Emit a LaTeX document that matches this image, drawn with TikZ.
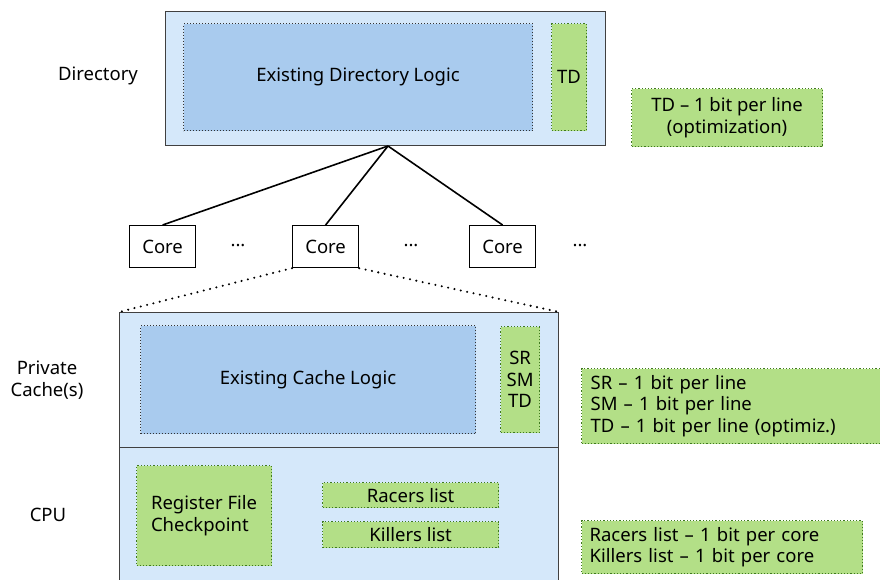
\documentclass[tikz,border=0pt]{standalone}
\usepackage{fontspec}
\setmainfont{Noto Sans}
\usetikzlibrary{positioning}
\definecolor{paleblue}{HTML}{D5E8FA}
\definecolor{logicblue}{HTML}{A9CBEE}
\definecolor{bitgreen}{HTML}{B3DF87}
\definecolor{bitedge}{HTML}{3F7A1F}

\begin{document}
\begin{tikzpicture}[x=1pt,y=-1pt,font=\fontsize{18.5}{21.5}\selectfont,
  unit/.style={draw=black!75,line width=1.2pt,fill=paleblue,anchor=north west,inner sep=0pt},
  logic/.style={draw=black!80,dotted,line width=1pt,fill=logicblue,anchor=north west,inner sep=0pt},
  bits/.style={draw=bitedge,dotted,line width=1.2pt,fill=bitgreen,anchor=north west,inner sep=0pt,align=center},
  core/.style={draw=black,line width=1.2pt,fill=white,anchor=north west,inner sep=0pt,minimum width=66pt,minimum height=42pt},
  zoomline/.style={line width=2.3pt,line cap=round,dash pattern=on 0pt off 6.5pt},
  side/.style={align=center}]
  \clip (0,0) rectangle (880,579);
  \fill[white] (0,0) rectangle (880,579);

  % directory
  \node[unit,minimum width=440pt,minimum height=134pt] (dir) at (165,11) {};
  \node[logic,minimum width=349pt,minimum height=107pt] (dirlogic) at (183,23) {Existing Directory Logic};
  \node[bits,minimum width=35pt,minimum height=107pt] (dirtd) at (551,23) {TD};
  \node[side] (dirlabel) at (98,76) {Directory};
  \node[bits,minimum width=191pt,minimum height=58pt] (dirnote) at (631,88) {TD -- 1 bit per line\\(optimization)};

  % cores
  \coordinate (hub) at (388,146);
  \node[core] (core1) at (129,225) {Core};
  \node[core] (core2) at (292,225) {Core};
  \node[core] (core3) at (469,225) {Core};
  \node (dots1) at (238,246) {...};
  \node (dots2) at (411,246) {...};
  \node (dots3) at (580,246) {...};
  \foreach \c in {core1,core2,core3}
    \draw[line width=1.6pt] (hub) -- (\c.north);

  % private cache and cpu
  \node[unit,minimum width=439pt,minimum height=135pt] (cache) at (119,312) {};
  \node[unit,minimum width=439pt,minimum height=150pt] (cpu) at (119,447) {};
  \draw[zoomline] (core2.south west) -- (cache.north west)
    (core2.south east) -- (cache.north east);
  \node[logic,minimum width=335pt,minimum height=108pt] (cachelogic) at (140,325) {Existing Cache Logic};
  \node[bits,minimum width=39pt,minimum height=106pt] (cachebits) at (500,326) {SR\\SM\\TD};
  \node[side] (cachelabel) at (47,380) {Private\\Cache(s)};
  \node[side] (cpulabel) at (48,515) {CPU};
  \node[bits,minimum width=135pt,minimum height=100pt,align=left] (regfile) at (136,465) {Register File\\Checkpoint};
  \node[bits,minimum width=176pt,minimum height=25pt] (racers) at (322,482) {Racers list};
  \node[bits,minimum width=176pt,minimum height=26pt] (killers) at (322,521) {Killers list};

  % notes
  \node[bits,minimum width=310pt,minimum height=75pt,align=left,text width=292pt] (cachenote) at (581,368)
    {SR -- 1 bit per line\\SM -- 1 bit per line\\TD -- 1 bit per line (optimiz.)};
  \node[bits,minimum width=281pt,minimum height=53pt,align=left,text width=265pt] (cpunote) at (581,520)
    {Racers list -- 1 bit per core\\Killers list -- 1 bit per core};
\end{tikzpicture}
\end{document}
